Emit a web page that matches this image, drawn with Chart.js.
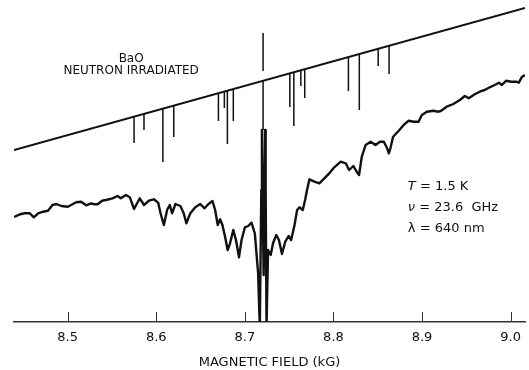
<!DOCTYPE html>
<html>
<head>
<meta charset="utf-8">
<script src="https://cdn.jsdelivr.net/npm/chart.js@4.4.1/dist/chart.umd.min.js"></script>
<style>
  html, body { margin: 0; padding: 0; background: #fff; }
  #wrap { width: 529px; height: 370px; }
</style>
</head>
<body>
<div id="wrap"><canvas id="esrChart" width="529" height="370"></canvas></div>
<script>
// Optically detected trace of neutron irradiated BaO
const fieldKG = [8.4395, 8.4462, 8.4518, 8.4574, 8.4619, 8.4667, 8.4723, 8.4779, 8.4829, 8.4873,
    8.4929, 8.5003, 8.5097, 8.5153, 8.5209, 8.5265, 8.5302, 8.5339, 8.5389, 8.5433,
    8.5507, 8.5563, 8.5601, 8.5657, 8.5702, 8.5750, 8.5814, 8.5862, 8.5918, 8.5974,
    8.6022, 8.6049, 8.6086, 8.6123, 8.6153, 8.6179, 8.6217, 8.6273, 8.6310, 8.6340,
    8.6385, 8.6441, 8.6497, 8.6545, 8.6590, 8.6635, 8.6665, 8.6694, 8.6721, 8.6747,
    8.6777, 8.6806, 8.6833, 8.6870, 8.6900, 8.6934, 8.6963, 8.7001, 8.7038, 8.7075,
    8.7113, 8.7150, 8.7169, 8.7186, 8.7193, 8.7202, 8.7212, 8.7222, 8.7228, 8.7235,
    8.7245, 8.7262, 8.7292, 8.7318, 8.7355, 8.7385, 8.7419, 8.7456, 8.7494, 8.7523,
    8.7561, 8.7590, 8.7617, 8.7654, 8.7680, 8.7702, 8.7729, 8.7785, 8.7841, 8.7897,
    8.7953, 8.8009, 8.8083, 8.8139, 8.8177, 8.8225, 8.8262, 8.8289, 8.8320, 8.8363,
    8.8419, 8.8475, 8.8524, 8.8569, 8.8606, 8.8625, 8.8643, 8.8673, 8.8737, 8.8793,
    8.8849, 8.8905, 8.8961, 8.8998, 8.9054, 8.9129, 8.9185, 8.9211, 8.9278, 8.9353,
    8.9427, 8.9483, 8.9527, 8.9595, 8.9651, 8.9707, 8.9763, 8.9819, 8.9868, 8.9901,
    8.9950, 9.0006, 9.0062, 9.0092, 9.0129, 9.0162];
const signal = [10.5, 10.77, 10.87, 10.87, 10.47, 10.87, 11.03, 11.13, 11.7, 11.8,
    11.6, 11.53, 11.97, 12.03, 11.67, 11.87, 11.77, 11.77, 12.13, 12.2,
    12.37, 12.6, 12.37, 12.7, 12.47, 11.3, 12.37, 11.7, 12.13, 12.27,
    11.93, 10.87, 9.7, 11.2, 11.7, 10.87, 11.8, 11.6, 10.87, 9.87,
    10.87, 11.47, 11.8, 11.37, 11.8, 12.1, 11.2, 9.7, 10.27, 9.7,
    8.53, 7.2, 7.87, 9.2, 8.2, 6.47, 8.2, 9.47, 9.6, 9.93,
    8.87, 4.87, -0.5, 13.2, 19.2, 12.2, 4.7, 12.2, 19.2, 13.2,
    -0.5, 7.2, 6.7, 7.87, 8.7, 8.2, 6.8, 8.03, 8.6, 8.2,
    9.7, 11.2, 11.47, 11.2, 12.2, 13.2, 14.27, 14.03, 13.87, 14.37,
    14.87, 15.47, 16.03, 15.87, 15.2, 15.6, 15.03, 14.7, 16.53, 17.7,
    18.03, 17.7, 18.03, 18.03, 17.37, 16.87, 17.37, 18.53, 19.13, 19.7,
    20.13, 20.03, 20.03, 20.7, 21.03, 21.13, 21.03, 21.1, 21.53, 21.8,
    22.2, 22.6, 22.37, 22.77, 23.03, 23.2, 23.47, 23.7, 23.93, 23.7,
    24.13, 24.03, 24.03, 23.93, 24.53, 24.7];

// Straight reference line (its two ends) and the stick spectrum hanging off it
const refField = [8.4395, 9.0162];
const refLevel = [17.2, 31.4];
const stickField = [8.5750, 8.5862, 8.6075, 8.6198, 8.6702, 8.6769, 8.6803, 8.6870, 8.7206, 8.7206,
    8.7508, 8.7553, 8.7632, 8.7676, 8.8169, 8.8292, 8.8505, 8.8628];
const stickTop = [20.54, 20.81, 21.34, 21.64, 22.88, 23.04, 23.13, 23.29, 28.9, 24.12,
    24.86, 24.97, 25.17, 25.28, 26.49, 26.79, 27.32, 27.62];
const stickBottom = [17.9, 19.2, 16.0, 18.5, 20.1, 21.4, 17.8, 20.1, 25.1, 19.2,
    21.5, 19.6, 23.6, 22.4, 23.1, 21.2, 25.6, 24.8];

const fieldTicks = [8.5, 8.6, 8.7, 8.8, 8.9, 9.0];

// Labels placed in data coordinates
const sampleLines = ['BaO', 'NEUTRON IRRADIATED'];
const sampleAt = [8.5717, 26.3];
const condSymbol = ['T', 'ν', 'λ'];
const condText = [' = 1.5 K', ' = 23.6  GHz', ' = 640 nm'];
const condItalic = [true, true, false];
const condAt = [8.884, 13.5];

const FONT = '"DejaVu Sans", "Liberation Sans", sans-serif';

const curvePts = fieldKG.map((b, i) => ({ x: b, y: signal[i] }));
const refPts = refField.map((b, i) => ({ x: b, y: refLevel[i] }));
const stickPts = [];
stickField.forEach((b, i) => {
    stickPts.push({ x: b, y: stickTop[i] }, { x: b, y: stickBottom[i] }, { x: b, y: null });
});

// short tick marks pointing up into the plot
const innerTicks = {
    id: 'innerTicks',
    afterDraw(chart) {
        const { ctx, scales: { x } } = chart;
        const y0 = chart.chartArea.bottom;
        ctx.save();
        ctx.strokeStyle = '#333';
        ctx.lineWidth = 1;
        fieldTicks.forEach(v => {
            const px = Math.round(x.getPixelForValue(v)) + 0.5;
            ctx.beginPath();
            ctx.moveTo(px, y0);
            ctx.lineTo(px, y0 - 10);
            ctx.stroke();
        });
        ctx.restore();
    }
};

const notes = {
    id: 'notes',
    afterDraw(chart) {
        const { ctx, scales: { x, y } } = chart;
        ctx.save();
        ctx.fillStyle = '#111';
        ctx.textBaseline = 'middle';
        ctx.font = '12px ' + FONT;
        ctx.textAlign = 'center';
        const sx = x.getPixelForValue(sampleAt[0]);
        const sy = y.getPixelForValue(sampleAt[1]);
        sampleLines.forEach((t, i) => ctx.fillText(t, sx, sy + i * 12));

        ctx.textAlign = 'left';
        const cx = x.getPixelForValue(condAt[0]);
        const cy = y.getPixelForValue(condAt[1]);
        condSymbol.forEach((s, i) => {
            const ly = cy + i * 21;
            ctx.font = (condItalic[i] ? 'italic ' : '') + '13px ' + FONT;
            ctx.fillText(s, cx, ly);
            const w = ctx.measureText(s).width;
            ctx.font = '13px ' + FONT;
            ctx.fillText(condText[i], cx + w, ly);
        });
        ctx.restore();
    }
};

new Chart(document.getElementById('esrChart'), {
    type: 'line',
    data: {
        datasets: [
            {
                label: 'signal',
                data: curvePts,
                borderColor: '#111',
                borderWidth: 2.4,
                pointRadius: 0,
                tension: 0,
                borderJoinStyle: 'round'
            },
            {
                label: 'reference',
                data: refPts,
                borderColor: '#111',
                borderWidth: 2,
                pointRadius: 0
            },
            {
                label: 'lines',
                data: stickPts,
                borderColor: '#111',
                borderWidth: 1.5,
                pointRadius: 0,
                spanGaps: false
            }
        ]
    },
    options: {
        responsive: false,
        animation: false,
        layout: { padding: { left: 14, right: 0, top: 0, bottom: 0 } },
        plugins: {
            legend: { display: false },
            tooltip: { enabled: false }
        },
        scales: {
            x: {
                type: 'linear',
                min: 8.4395,
                max: 9.0162,
                afterBuildTicks: s => { s.ticks = fieldTicks.map(v => ({ value: v })); },
                afterFit: s => { s.height = 48; },
                grid: { display: false, drawTicks: false },
                border: { display: true, color: '#333', width: 1.5 },
                ticks: {
                    color: '#111',
                    padding: 8,
                    maxRotation: 0,
                    autoSkip: false,
                    font: { family: FONT, size: 13 },
                    callback: v => Number(v).toFixed(1)
                },
                title: {
                    display: true,
                    text: 'MAGNETIC FIELD (kG)',
                    color: '#111',
                    font: { family: FONT, size: 13 },
                    padding: { top: 0, bottom: 0 }
                }
            },
            y: {
                display: false,
                min: 0,
                max: 32.2
            }
        }
    },
    plugins: [innerTicks, notes]
});
</script>
</body>
</html>
